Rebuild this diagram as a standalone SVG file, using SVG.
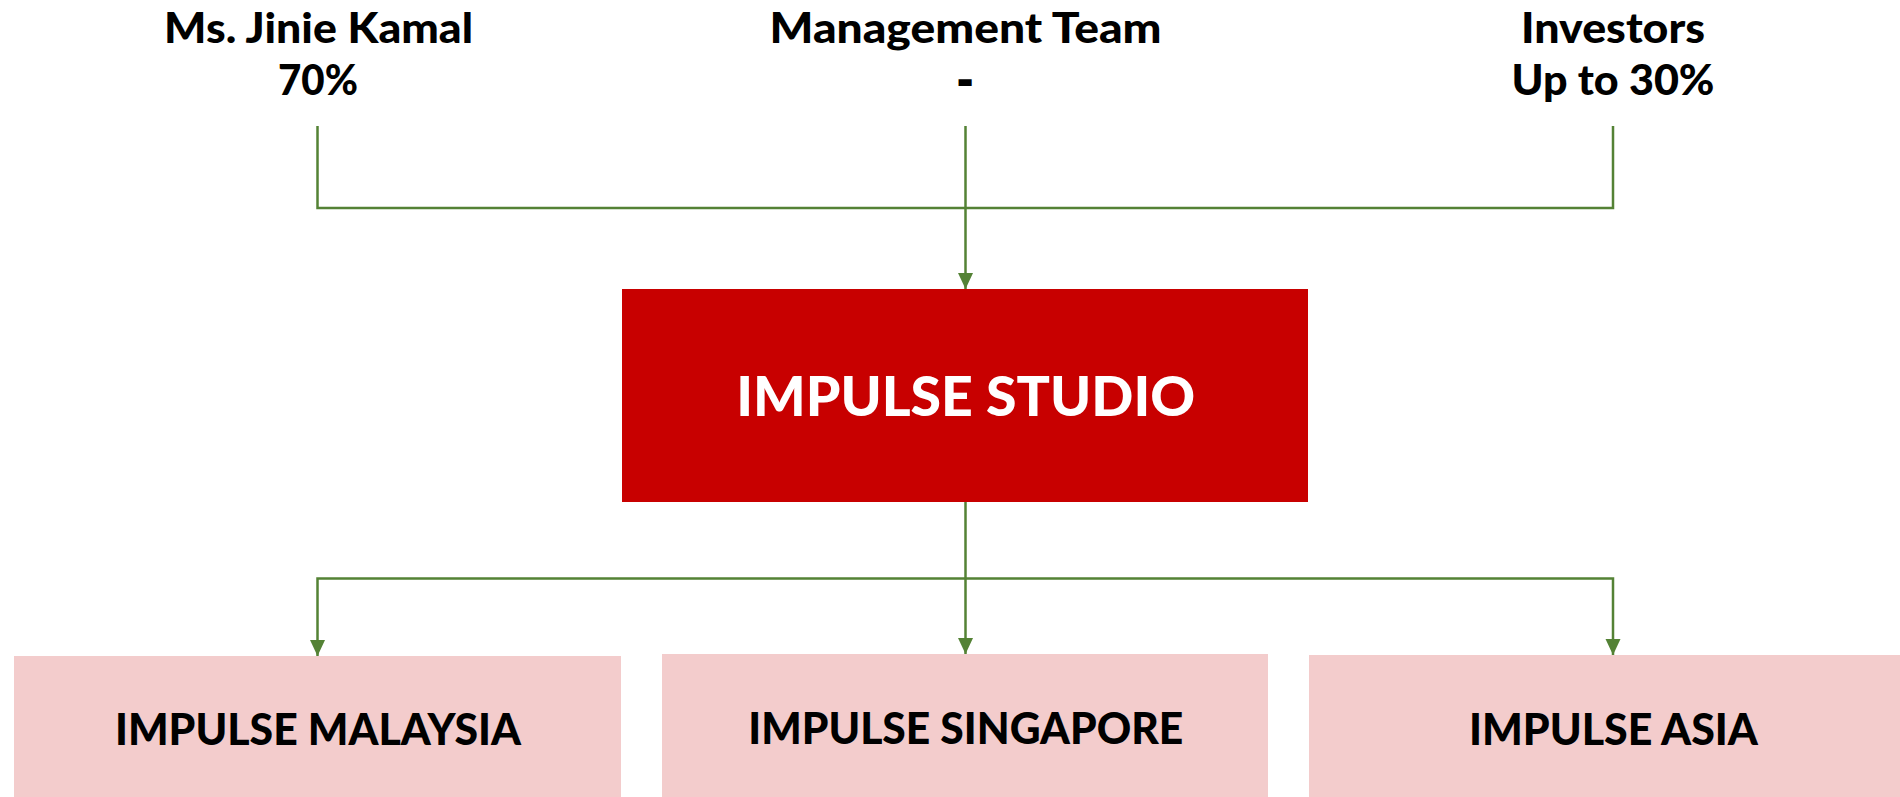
<svg xmlns="http://www.w3.org/2000/svg" width="1900" height="797" viewBox="0 0 1900 797">
  <style>
    .label { font-family: Lato, "Liberation Sans", sans-serif; font-weight: 900; fill: #000000; text-anchor: middle; }
    .owner { font-size: 42px; }
    .sub { font-size: 43px; }
    .main { font-size: 55px; fill: #ffffff; }
    .wire { fill: none; stroke: #548235; stroke-width: 2.5; }
    .hq { fill: #c80000; }
    .branch { fill: #f3cccc; }
  </style>
  <defs>
    <marker id="arrow" markerUnits="userSpaceOnUse" markerWidth="16" markerHeight="16" refX="16" refY="8" orient="auto">
      <path d="M0,0.5 L16,8 L0,15.5 z" fill="#548235"/>
    </marker>
  </defs>

  <rect width="1900" height="797" fill="#ffffff"/>

  <!-- shareholders -->
  <g id="owner-jinie">
    <text class="label owner" x="318.5" y="43" textLength="309" lengthAdjust="spacingAndGlyphs">Ms. Jinie Kamal</text>
    <text class="label owner" x="318" y="95" textLength="80" lengthAdjust="spacingAndGlyphs">70%</text>
  </g>
  <g id="owner-management">
    <text class="label owner" x="965.5" y="43" textLength="392" lengthAdjust="spacingAndGlyphs">Management Team</text>
    <text class="label owner" x="965" y="95" stroke="#000000" stroke-width="2">-</text>
  </g>
  <g id="owner-investors">
    <text class="label owner" x="1613" y="43" textLength="184" lengthAdjust="spacingAndGlyphs">Investors</text>
    <text class="label owner" x="1613" y="95" textLength="203" lengthAdjust="spacingAndGlyphs">Up to 30%</text>
  </g>

  <!-- holding company -->
  <g id="impulse-studio">
    <rect class="hq" x="622" y="289" width="686" height="213"/>
    <text class="label main" x="965.7" y="416" textLength="459" lengthAdjust="spacingAndGlyphs">IMPULSE STUDIO</text>
  </g>

  <!-- subsidiaries -->
  <g id="impulse-malaysia">
    <rect class="branch" x="14" y="656" width="607" height="141"/>
    <text class="label sub" x="318" y="745" textLength="406" lengthAdjust="spacingAndGlyphs">IMPULSE MALAYSIA</text>
  </g>
  <g id="impulse-singapore">
    <rect class="branch" x="662" y="654" width="606" height="143"/>
    <text class="label sub" x="965.8" y="744" textLength="435" lengthAdjust="spacingAndGlyphs">IMPULSE SINGAPORE</text>
  </g>
  <g id="impulse-asia">
    <rect class="branch" x="1309" y="655" width="591" height="142"/>
    <text class="label sub" x="1613.5" y="745" textLength="289" lengthAdjust="spacingAndGlyphs">IMPULSE ASIA</text>
  </g>

  <!-- connectors -->
  <g id="connectors">
    <path class="wire" d="M317.5,126 V208 H1613 V126"/>
    <path class="wire" d="M965.5,126 V289" marker-end="url(#arrow)"/>
    <path class="wire" d="M965.5,502 V654" marker-end="url(#arrow)"/>
    <path class="wire" d="M965.5,578.5 H317.5 V656" marker-end="url(#arrow)"/>
    <path class="wire" d="M965.5,578.5 H1613 V655" marker-end="url(#arrow)"/>
  </g>
</svg>
